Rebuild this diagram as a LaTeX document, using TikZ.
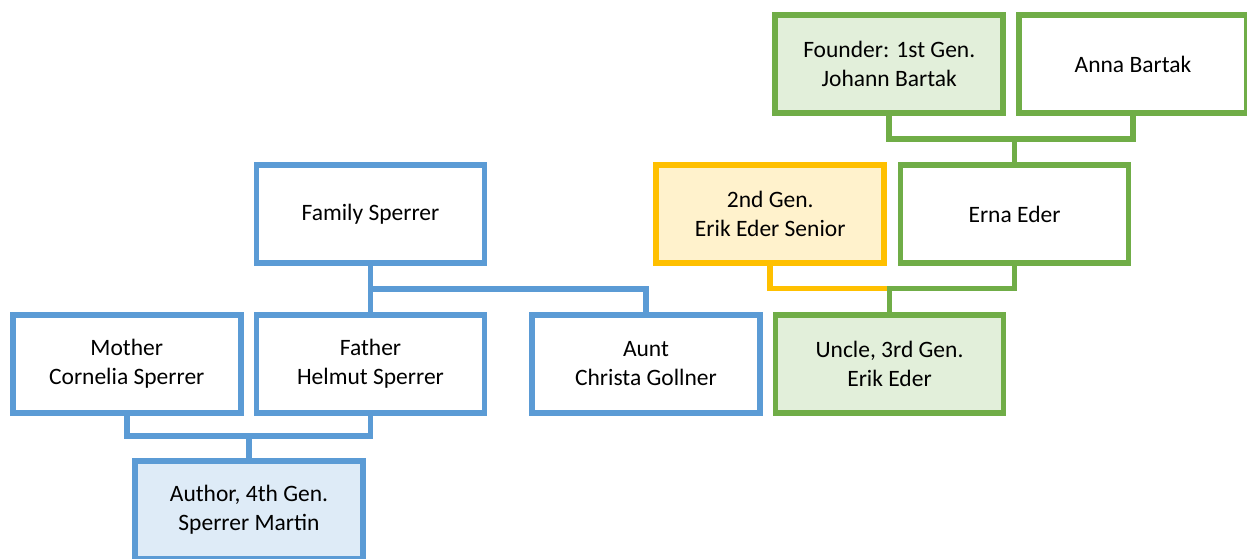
\documentclass[tikz,border=0pt]{standalone}
\usepackage{fontspec}
\setmainfont{Carlito}
\definecolor{famblue}{HTML}{5B9BD5}
\definecolor{famgreen}{HTML}{70AD47}
\definecolor{famorange}{HTML}{FFC000}
\definecolor{fillblue}{HTML}{DEEBF7}
\definecolor{fillgreen}{HTML}{E2EFDA}
\definecolor{fillorange}{HTML}{FFF2CC}
\begin{document}
\begin{tikzpicture}[x=1pt,y=-1pt,
  person/.style={draw,line width=5.7pt,minimum width=228pt,minimum height=98pt,
    inner sep=0pt,align=center,font=\fontsize{23.5}{29}\selectfont,fill=white},
  blueline/.style={draw=famblue,line width=5.7pt},
  greenline/.style={draw=famgreen,line width=5.7pt},
  orangeline/.style={draw=famorange,line width=5.7pt}]
\useasboundingbox (0,0) rectangle (1247,558);
\clip (0,0) rectangle (1247,558);

% Bartak / Eder branch
\node[person,draw=famgreen,fill=fillgreen] (founder) at (889.25,64) {Founder: 1st Gen.\\Johann Bartak};
\node[person,draw=famgreen] (anna) at (1133,64) {Anna Bartak};
\node[person,draw=famorange,fill=fillorange] (senior) at (770.25,214) {2nd Gen.\\Erik Eder Senior};
\node[person,draw=famgreen] (erna) at (1014.5,214) {Erna Eder};
\node[person,draw=famgreen,fill=fillgreen] (uncle) at (889.5,364) {Uncle, 3rd Gen.\\Erik Eder};

% Sperrer branch
\node[person,draw=famblue] (family) at (370.5,214) {Family Sperrer};
\node[person,draw=famblue] (mother) at (126.75,364) {Mother\\Cornelia Sperrer};
\node[person,draw=famblue] (father) at (370.5,364) {Father\\Helmut Sperrer};
\node[person,draw=famblue] (aunt) at (646,364) {Aunt\\Christa Gollner};
\node[person,draw=famblue,fill=fillblue] (author) at (249,510) {Author, 4th Gen.\\Sperrer Martin};

% junction points
\coordinate (jb) at (1014.5,138.7);
\coordinate (je) at (889.5,288.5);
\coordinate (js) at (370.5,288.7);
\coordinate (jp) at (249,436);

% connectors
\draw[greenline] (founder.south) |- (anna.south |- jb) -- (anna.south);
\draw[greenline] (jb) -- (erna.north);
\draw[orangeline] (senior.south) |- (je);
\draw[greenline] (erna.south) |- (je) -- (uncle.north);
\draw[blueline] (family.south) -- (father.north);
\draw[blueline] (js) -| (aunt.north);
\draw[blueline] (mother.south) |- (father.south |- jp) -- (father.south);
\draw[blueline] (jp) -- (author.north);
\end{tikzpicture}
\end{document}
